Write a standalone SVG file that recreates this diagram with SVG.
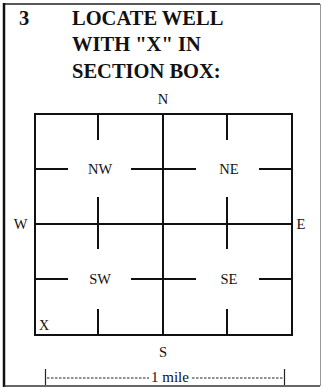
<svg xmlns="http://www.w3.org/2000/svg" width="322" height="388" viewBox="0 0 322 388">
<style>
.t{font-family:"Liberation Serif","Times New Roman",serif;fill:#111}
.h{font-size:20.5px;font-weight:bold}
.l{font-size:14.5px}
.g{stroke:#111;stroke-width:2;fill:none;stroke-linecap:square}
</style>
<rect width="322" height="388" fill="#fff"/>
<g id="frame">
<line x1="4" y1="4" x2="320" y2="4" stroke="#222" stroke-width="1.5"/>
<line x1="4" y1="3" x2="4" y2="387" stroke="#111" stroke-width="2.5"/>
<line x1="320.5" y1="4" x2="320.5" y2="386" stroke="#999" stroke-width="1"/>
<line x1="4" y1="386" x2="320" y2="386" stroke="#333" stroke-width="1.5"/>
</g>
<g id="title">
<text class="t h" x="19" y="25">3</text>
<text class="t h" x="72" y="25">LOCATE WELL</text>
<text class="t h" x="72" y="51">WITH "X" IN</text>
<text class="t h" x="72" y="78">SECTION BOX:</text>
</g>
<g id="section-box">
<rect class="g" x="35" y="114" width="257" height="221"/>
<line class="g" x1="163" y1="114" x2="163" y2="335"/>
<line class="g" x1="35" y1="224" x2="292" y2="224"/>
</g>
<g id="connectors">
<line class="g" x1="98" y1="114" x2="98" y2="139"/>
<line class="g" x1="98" y1="198" x2="98" y2="248"/>
<line class="g" x1="98" y1="310" x2="98" y2="335"/>
<line class="g" x1="227" y1="114" x2="227" y2="139"/>
<line class="g" x1="227" y1="198" x2="227" y2="248"/>
<line class="g" x1="227" y1="310" x2="227" y2="335"/>
<line class="g" x1="35" y1="169" x2="67" y2="169"/>
<line class="g" x1="132" y1="169" x2="195" y2="169"/>
<line class="g" x1="260" y1="169" x2="292" y2="169"/>
<line class="g" x1="35" y1="279" x2="67" y2="279"/>
<line class="g" x1="132" y1="279" x2="195" y2="279"/>
<line class="g" x1="260" y1="279" x2="292" y2="279"/>
</g>
<g id="quarters">
<text class="t l" x="100" y="174" text-anchor="middle">NW</text>
<text class="t l" x="229" y="174" text-anchor="middle">NE</text>
<text class="t l" x="100" y="284" text-anchor="middle">SW</text>
<text class="t l" x="229" y="284" text-anchor="middle">SE</text>
</g>
<g id="compass">
<text class="t l" x="163" y="104" text-anchor="middle">N</text>
<text class="t l" x="163" y="357" text-anchor="middle">S</text>
<text class="t l" x="20.5" y="229" text-anchor="middle">W</text>
<text class="t l" x="301" y="229" text-anchor="middle">E</text>
</g>
<g id="well">
<text class="t" x="39" y="330" font-size="14">X</text>
</g>
<g id="scale">
<line x1="45.5" y1="369" x2="45.5" y2="385" stroke="#222" stroke-width="1.2"/>
<line x1="284.5" y1="369" x2="284.5" y2="385" stroke="#222" stroke-width="1.2"/>
<line x1="47" y1="378" x2="149" y2="378" stroke="#222" stroke-width="1.2" stroke-dasharray="2.5,1.5"/>
<line x1="192" y1="378" x2="283" y2="378" stroke="#222" stroke-width="1.2" stroke-dasharray="2.5,1.5"/>
<text class="t" x="170" y="382" font-size="15" text-anchor="middle">1 mile</text>
</g>
</svg>
